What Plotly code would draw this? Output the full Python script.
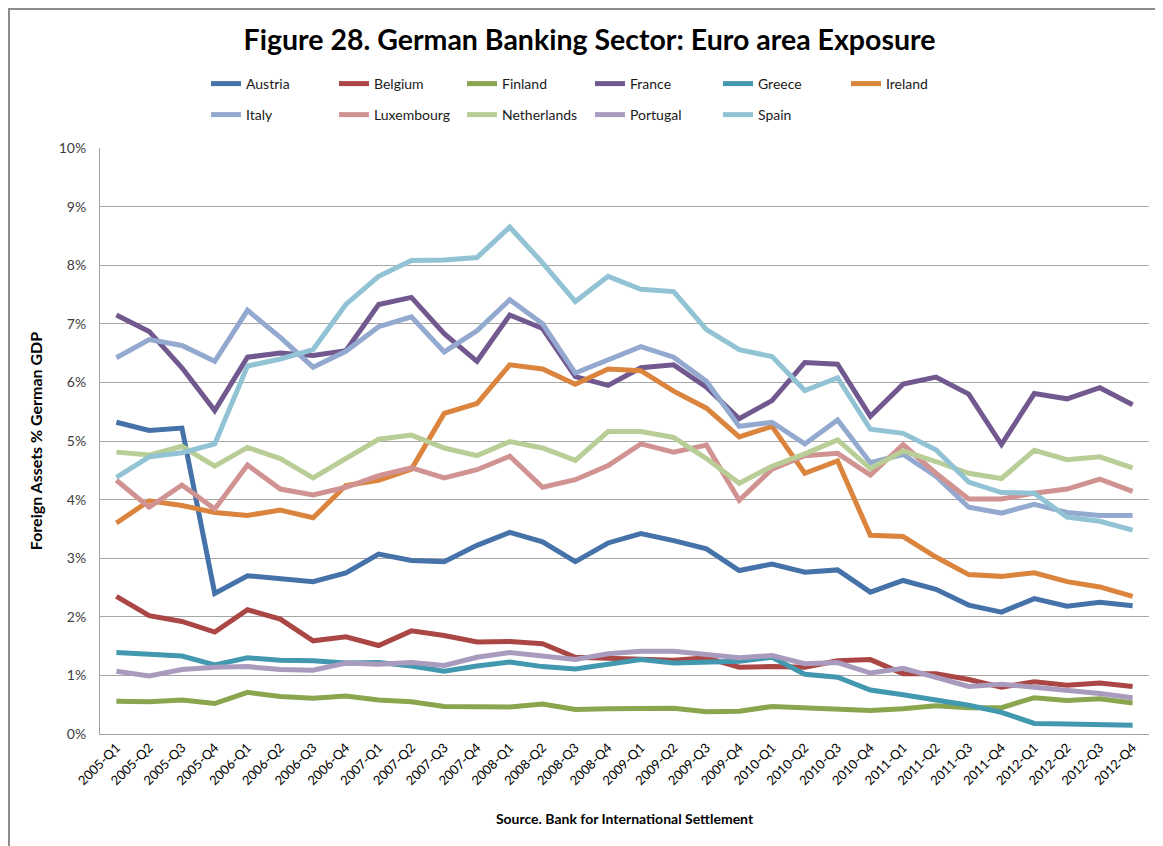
import plotly.graph_objects as go

quarters = [f"{y}-Q{q}" for y in range(2005, 2013) for q in range(1, 5)]

austria = [5.32, 5.18, 5.22, 2.40, 2.70, 2.66, 2.60, 2.75, 3.07, 2.96, 2.94, 3.22, 3.44, 3.28, 2.94, 3.26, 3.42, 3.30, 3.16, 2.79, 2.90, 2.76, 2.80, 2.42, 2.62, 2.47, 2.20, 2.08, 2.31, 2.18, 2.25, 2.19]
belgium = [2.35, 2.02, 1.92, 1.74, 2.12, 1.96, 1.59, 1.66, 1.51, 1.76, 1.68, 1.57, 1.58, 1.54, 1.31, 1.29, 1.27, 1.26, 1.30, 1.14, 1.15, 1.14, 1.25, 1.27, 1.03, 1.03, 0.93, 0.80, 0.89, 0.83, 0.87, 0.81]
finland = [0.56, 0.55, 0.58, 0.52, 0.71, 0.64, 0.61, 0.65, 0.58, 0.55, 0.47, 0.46, 0.46, 0.51, 0.42, 0.43, 0.44, 0.44, 0.38, 0.39, 0.47, 0.45, 0.44, 0.40, 0.43, 0.48, 0.45, 0.45, 0.62, 0.57, 0.60, 0.53]
france = [7.15, 6.87, 6.25, 5.52, 6.43, 6.50, 6.46, 6.54, 7.33, 7.45, 6.83, 6.36, 7.15, 6.92, 6.10, 5.95, 6.25, 6.30, 5.92, 5.38, 5.69, 6.34, 6.31, 5.42, 5.97, 6.09, 5.80, 4.94, 5.81, 5.72, 5.91, 5.62]
greece = [1.39, 1.36, 1.33, 1.18, 1.30, 1.26, 1.25, 1.21, 1.22, 1.16, 1.07, 1.16, 1.23, 1.15, 1.11, 1.19, 1.27, 1.21, 1.23, 1.24, 1.31, 1.02, 0.97, 0.75, 0.67, 0.58, 0.49, 0.37, 0.18, 0.17, 0.17, 0.15]
ireland = [3.60, 3.98, 3.90, 3.78, 3.73, 3.82, 3.69, 4.24, 4.33, 4.52, 5.47, 5.64, 6.30, 6.23, 5.97, 6.23, 6.20, 5.85, 5.56, 5.07, 5.25, 4.45, 4.66, 3.39, 3.37, 3.02, 2.72, 2.69, 2.75, 2.60, 2.51, 2.35]
italy = [6.42, 6.73, 6.63, 6.36, 7.23, 6.77, 6.26, 6.53, 6.95, 7.12, 6.52, 6.88, 7.41, 7.00, 6.16, 6.39, 6.61, 6.43, 6.02, 5.25, 5.32, 4.95, 5.36, 4.63, 4.77, 4.40, 3.87, 3.77, 3.92, 3.78, 3.73, 3.73]
luxembourg = [4.33, 3.87, 4.25, 3.84, 4.59, 4.18, 4.08, 4.21, 4.41, 4.54, 4.37, 4.51, 4.74, 4.21, 4.34, 4.58, 4.95, 4.81, 4.93, 3.99, 4.52, 4.75, 4.79, 4.42, 4.94, 4.45, 4.01, 4.01, 4.11, 4.18, 4.35, 4.14]
netherlands = [4.81, 4.76, 4.91, 4.57, 4.89, 4.70, 4.37, 4.70, 5.03, 5.10, 4.88, 4.75, 4.99, 4.88, 4.67, 5.16, 5.16, 5.06, 4.70, 4.28, 4.57, 4.78, 5.02, 4.53, 4.83, 4.65, 4.45, 4.36, 4.84, 4.68, 4.73, 4.54]
portugal = [1.07, 0.99, 1.10, 1.14, 1.15, 1.10, 1.09, 1.21, 1.19, 1.22, 1.17, 1.31, 1.39, 1.34, 1.27, 1.37, 1.41, 1.41, 1.35, 1.30, 1.34, 1.20, 1.22, 1.04, 1.12, 0.97, 0.81, 0.85, 0.80, 0.73, 0.69, 0.62]
spain = [4.38, 4.73, 4.80, 4.95, 6.28, 6.40, 6.56, 7.33, 7.81, 8.08, 8.09, 8.13, 8.65, 8.04, 7.38, 7.81, 7.59, 7.55, 6.90, 6.56, 6.44, 5.86, 6.08, 5.20, 5.13, 4.85, 4.30, 4.12, 4.11, 3.70, 3.63, 3.48]

series = [
    ("Austria", austria, "#4572A8", "legend"),
    ("Belgium", belgium, "#AA4643", "legend"),
    ("Finland", finland, "#89A54E", "legend"),
    ("France", france, "#71588F", "legend"),
    ("Greece", greece, "#4198AF", "legend"),
    ("Ireland", ireland, "#DB843D", "legend"),
    ("Italy", italy, "#93A9CF", "legend2"),
    ("Luxembourg", luxembourg, "#D19392", "legend2"),
    ("Netherlands", netherlands, "#B9CD96", "legend2"),
    ("Portugal", portugal, "#A99BBD", "legend2"),
    ("Spain", spain, "#92C3D4", "legend2"),
]

FONT = "Lato"

fig = go.Figure()
for name, vals, color, leg in series:
    fig.add_trace(go.Scatter(
        x=list(range(len(quarters))), y=[v / 100 for v in vals], name=name, mode="lines",
        line=dict(color=color, width=5), legend=leg,
    ))

# The page body adds an 8px offset; positions below are in figure pixels.
OFF = 8
W, H = 1163, 846
L, T = 100 - OFF, 148 - OFF
pw, ph = 1049, 586
R, B = W - L - pw, H - T - ph

def px_x(p):
    return (p - OFF - L) / pw

def px_y(p):
    return (T + ph - (p - OFF)) / ph

legend_common = dict(
    orientation="h", xanchor="left", yanchor="middle",
    entrywidth=83, itemwidth=30, tracegroupgap=0,
    font=dict(family=FONT, size=14, color="#1a1a1a"),
    bgcolor="rgba(0,0,0,0)",
)

fig.update_layout(
    width=W, height=H,
    margin=dict(l=L, r=R, t=T, b=B),
    paper_bgcolor="white", plot_bgcolor="white",
    font=dict(family=FONT, color="#262626"),
    title=dict(
        text="<b>Figure 28. German Banking Sector: Euro area Exposure</b>",
        x=0.5, xanchor="center", y=1 - (40 - OFF) / H, yanchor="middle",
        font=dict(family=FONT, size=28.5, color="#000000"),
    ),
    legend=dict(x=px_x(206), y=px_y(84), **legend_common),
    legend2=dict(x=px_x(206), y=px_y(115), **legend_common),
    xaxis=dict(
        range=[-0.5, len(quarters) - 0.5],
        tickmode="array", tickvals=list(range(len(quarters))), ticktext=quarters,
        tickangle=-45, tickfont=dict(family=FONT, size=13, color="#000000"),
        showgrid=False, showline=True, linecolor="#A0A0A0", linewidth=1,
        ticks="", zeroline=False, automargin=False,
        title=dict(text="<b>Source. Bank for International Settlement</b>",
                   font=dict(family=FONT, size=14, color="#000000"), standoff=26),
    ),
    yaxis=dict(
        range=[0, 0.1], dtick=0.01, tickformat=".0%",
        tickfont=dict(family=FONT, size=14, color="#404040"),
        ticklabelstandoff=10,
        showgrid=True, gridcolor="#A6A6A6", gridwidth=1,
        showline=True, linecolor="#A0A0A0", linewidth=1,
        ticks="", zeroline=False, automargin=False,
        title=dict(text="<b>Foreign Assets % German GDP</b>",
                   font=dict(family=FONT, size=16, color="#000000"), standoff=12),
    ),
    shapes=[dict(
        type="rect", xref="paper", yref="paper",
        x0=-L / pw + 1 / pw, x1=(W - L + 20) / pw,
        y0=-(B + 20) / ph, y1=1 + (T - 1) / ph,
        line=dict(color="#8C8C8C", width=2), fillcolor="rgba(0,0,0,0)", layer="below",
    )],
)

fig.write_html("out.html")
